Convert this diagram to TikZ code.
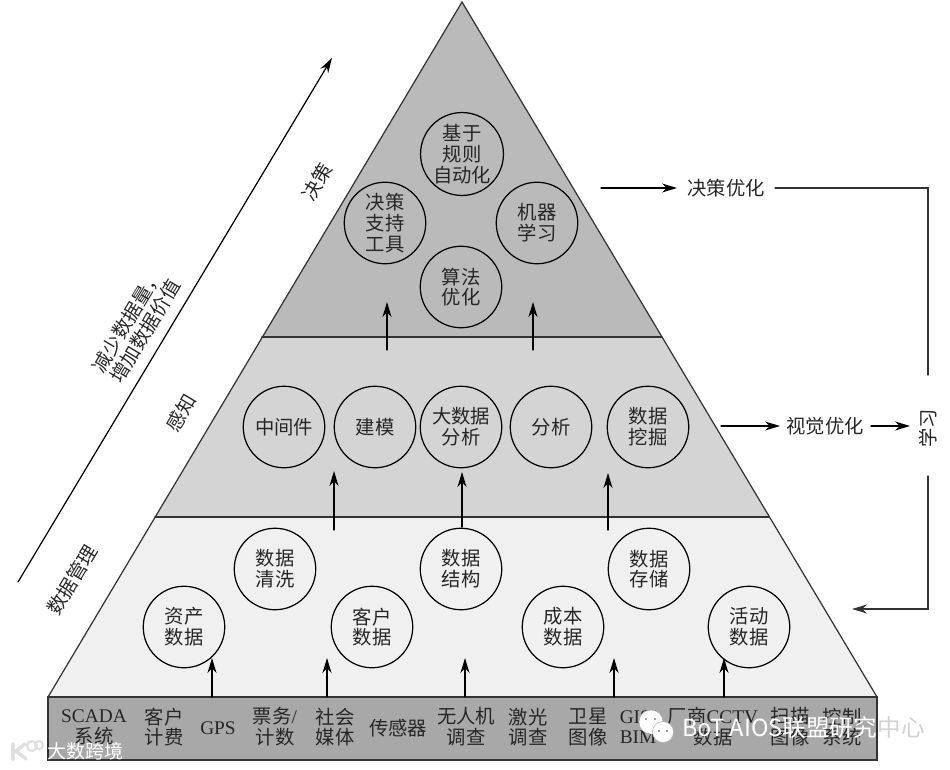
\documentclass[tikz,border=0pt]{standalone}
\usepackage{fontspec}
\setmainfont{Noto Sans CJK SC}
\newfontfamily\latinfont{Liberation Serif}
\usepackage{tikz}
\usetikzlibrary{arrows.meta}
\usepackage{xcolor}
\definecolor{topband}{gray}{0.73}
\definecolor{midband}{gray}{0.83}
\definecolor{lowband}{gray}{0.94}
\definecolor{baseband}{gray}{0.66}
\definecolor{inkline}{gray}{0.2}

\begin{document}
\begin{tikzpicture}[x=0.2mm,y=-0.2mm,>={Stealth[length=3mm,width=1.8mm]},font=\fontsize{11pt}{11.8pt}\selectfont,line cap=round,
  lvl/.style={draw=black,circle,minimum size=16.3mm,inner sep=0pt,align=center,text=black!85,line width=0.7pt},
  src/.style={align=center,text=black!85,inner sep=0pt},
  side/.style={align=center,text=black!85,inner sep=0pt,rotate=59},
  link/.style={->,black,line width=0.7pt},
  wire/.style={inkline,line width=0.8pt}]
\useasboundingbox (0,0) rectangle (950,769);
\fill[lowband] (48,697) -- (877,697) -- (769,517) -- (155,517) -- cycle;
\fill[midband] (155,517) -- (769,517) -- (662,337) -- (262,337) -- cycle;
\fill[topband] (262,337) -- (662,337) -- (462,2) -- cycle;
\draw[inkline,line width=0.7pt] (48,697) -- (462,2) -- (877,697);
\draw[inkline,line width=0.9pt] (262,337) -- (662,337);
\draw[inkline,line width=0.9pt] (155,517) -- (769,517);
\filldraw[fill=baseband,draw=inkline,line width=0.9pt] (48,697) rectangle (877,760);
\node[lvl] (rule) at (462,154) {基于\\规则\\自动化};
\node[lvl] (support) at (385,223) {决策\\支持\\工具};
\node[lvl] (learn) at (537,223) {机器\\学习};
\node[lvl] (algo) at (461,287) {算法\\优化};
\node[lvl] (middle) at (284,427) {中间件};
\node[lvl] (model) at (375,427) {建模};
\node[lvl] (bigdata) at (461,427) {大数据\\分析};
\node[lvl] (analysis) at (551,427) {分析};
\node[lvl] (mining) at (648,427) {数据\\挖掘};
\node[lvl] (asset) at (184,627) {资产\\数据};
\node[lvl] (clean) at (275,569) {数据\\清洗};
\node[lvl] (customer) at (372,627) {客户\\数据};
\node[lvl] (struct) at (461,569) {数据\\结构};
\node[lvl] (cost) at (563,627) {成本\\数据};
\node[lvl] (store) at (649,569) {数据\\存储};
\node[lvl] (activity) at (749,627) {活动\\数据};
\node[src] (scada) at (94,727) {{\latinfont SCADA}\\系统};
\node[src] (billing) at (164,727) {客户\\计费};
\node[src] (gps) at (218,728) {\latinfont GPS};
\node[src] (ticket) at (275,727) {票务{\latinfont /}\\计数};
\node[src] (social) at (335,727) {社会\\媒体};
\node[src] (sensor) at (398,728) {传感器};
\node[src] (drone) at (466,727) {无人机\\调查};
\node[src] (laser) at (528,727) {激光\\调查};
\node[src] (satellite) at (588,727) {卫星\\图像};
\node[src] (gis) at (638,727) {{\latinfont GIS/}\\{\latinfont BIM}};
\node[src] (cctv) at (713,727) {厂商{\latinfont CCTV}\\数据};
\node[src] (scan) at (790,727) {扫描\\图像};
\node[src] (control) at (842,727) {控制\\系统};
\node[src] (optdec) at (726,188) {决策优化};
\node[src] (optvis) at (825,426) {视觉优化};
\node[src,rotate=90] (study) at (928,428) {学习};
\node[side] (decide) at (317,182) {决策};
\node[side] (sense) at (181,413) {感知};
\node[side] (manage) at (72,580) {数据管理};
\node[side] (reduce) at (136,326) {减少数据量，\\增加数据价值};
\coordinate (trendA) at (18,582);
\coordinate (trendB) at (332,58);
\draw[link] (trendA) -- (trendB);
\coordinate (upA) at (387,350);
\coordinate (upAt) at (387,302);
\draw[link] (upA) -- (upAt);
\coordinate (upB) at (533,350);
\coordinate (upBt) at (533,302);
\draw[link] (upB) -- (upBt);
\coordinate (upC) at (334,530);
\coordinate (upCt) at (334,471);
\draw[link] (upC) -- (upCt);
\coordinate (upD) at (462,527);
\coordinate (upDt) at (462,472);
\draw[link] (upD) -- (upDt);
\coordinate (upE) at (608,530);
\coordinate (upEt) at (608,473);
\draw[link] (upE) -- (upEt);
\coordinate (upF) at (212,697);
\coordinate (upFt) at (212,658);
\draw[link] (upF) -- (upFt);
\coordinate (upG) at (327,697);
\coordinate (upGt) at (327,658);
\draw[link] (upG) -- (upGt);
\coordinate (upH) at (465,697);
\coordinate (upHt) at (465,658);
\draw[link] (upH) -- (upHt);
\coordinate (upI) at (614,697);
\coordinate (upIt) at (614,658);
\draw[link] (upI) -- (upIt);
\coordinate (upJ) at (724,697);
\coordinate (upJt) at (724,658);
\draw[link] (upJ) -- (upJt);
\coordinate (fromTop) at (601,188);
\coordinate (toDec) at (677,188);
\draw[link] (fromTop) -- (toDec);
\coordinate (fromMid) at (721,426);
\coordinate (toVis) at (780,426);
\draw[link] (fromMid) -- (toVis);
\coordinate (fromVis) at (871,426);
\coordinate (toStudy) at (910,426);
\draw[link] (fromVis) -- (toStudy);
\coordinate (decEnd) at (775,188);
\coordinate (corA) at (928,188);
\coordinate (corB) at (928,375);
\draw[wire] (decEnd) -- (corA) -- (corB);
\coordinate (corC) at (928,476);
\coordinate (corD) at (928,609);
\coordinate (backTip) at (852,609);
\draw[wire,->] (corC) -- (corD) -- (backTip);
\filldraw[white,draw=gray!60,line width=0.3pt] (651,722) circle (12);
\filldraw[white,draw=gray!60,line width=0.3pt] (663,732) circle (10.5);
\fill[gray] (646,719) circle (1.2);
\fill[gray] (655,719) circle (1.2);
\fill[gray] (659,731) circle (1.2);
\fill[gray] (667,731) circle (1.2);
\node[inner sep=0pt,anchor=west,text=white,font=\fontsize{13.4pt}{14pt}\selectfont] (wechat) at (682,728) {BoT AIOS联盟研究};
\node[inner sep=0pt,anchor=west,text=gray!35,font=\fontsize{13.4pt}{14pt}\selectfont] (wechatend) at (wechat.east) {中心};
\node[inner sep=0pt,anchor=west,text=white,font=\fontsize{10.8pt}{12pt}\selectfont] (kuajing) at (47,751) {大数跨境};
\draw[gray!25,line width=2pt] (13,744) -- (13,759);
\draw[gray!25,line width=2pt] (25,744) -- (16,751) -- (26,759);
\draw[gray!25,line width=1.2pt] (32,746) circle (5);
\draw[gray!25,line width=1.2pt] (39,745) circle (4);
\end{tikzpicture}
\end{document}
